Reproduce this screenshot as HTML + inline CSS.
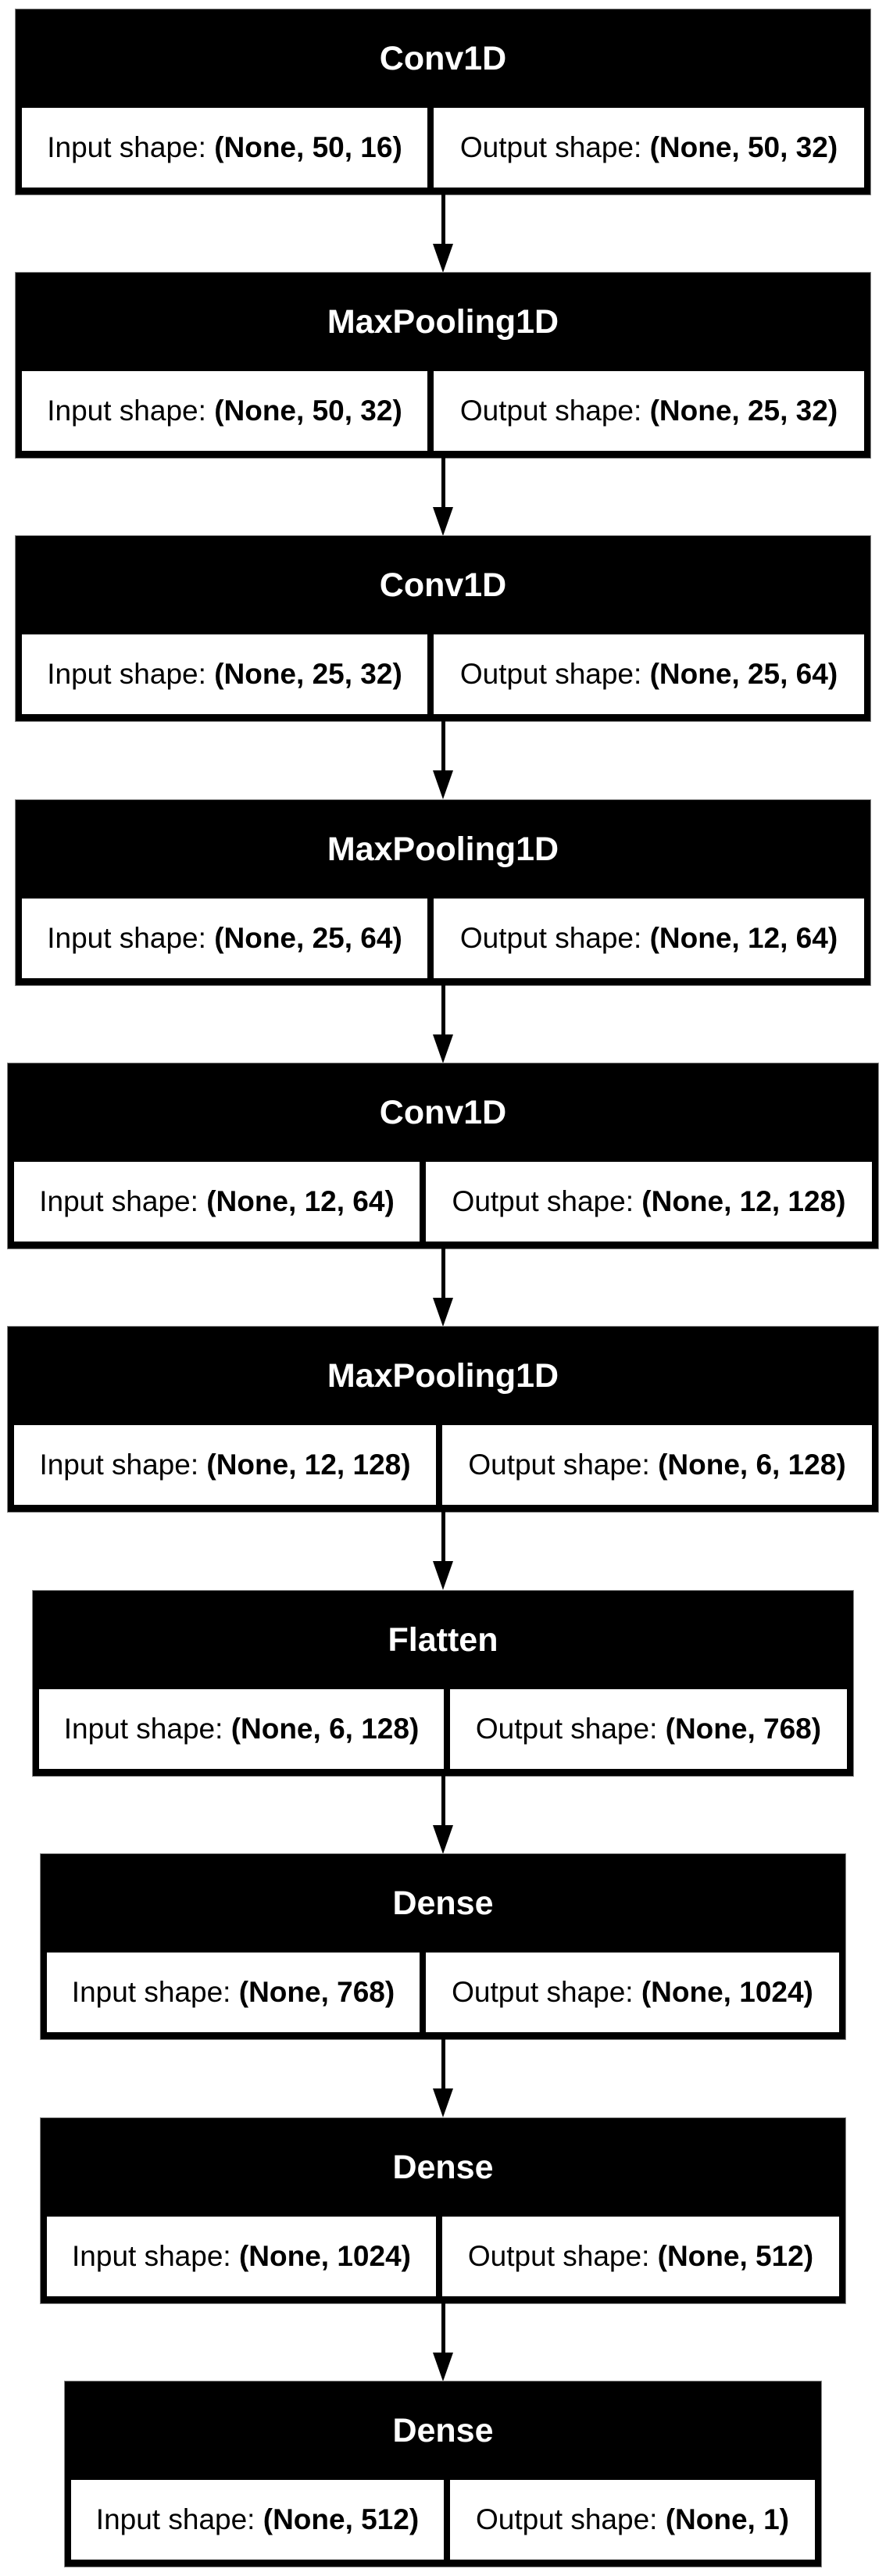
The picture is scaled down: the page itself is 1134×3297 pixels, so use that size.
<!DOCTYPE html>
<html><head><meta charset="utf-8"><style>
html,body{margin:0;padding:0;background:#fff;}
body{width:1134px;height:3297px;position:relative;overflow:hidden;font-family:"Liberation Sans",Arial,sans-serif;}
.b{position:absolute;background:#000;height:237px;box-shadow:0 0 0 1px #888;}
.t{position:absolute;left:0;right:0;top:0;height:126px;line-height:126px;text-align:center;color:#fff;font-weight:bold;font-size:43px;}
.c{position:absolute;background:#fff;top:126px;height:102px;line-height:102px;text-align:center;font-size:37px;color:#000;white-space:nowrap;}
.c b{font-weight:bold;}
.ln{position:absolute;left:565px;width:5px;background:#000;}
.ah{position:absolute;left:554px;width:0;height:0;border-left:13.5px solid transparent;border-right:13.5px solid transparent;border-top:37px solid #000;}
</style></head><body>

<div class="b" style="top:12px;left:20px;width:1094px"><div class="t">Conv1D</div><div class="c" style="left:8px;width:519px">Input shape: <b>(None, 50, 16)</b></div><div class="c" style="left:535px;width:551px">Output shape: <b>(None, 50, 32)</b></div></div>
<div class="ln" style="top:249px;height:65px"></div><div class="ah" style="top:312px"></div>

<div class="b" style="top:349px;left:20px;width:1094px"><div class="t">MaxPooling1D</div><div class="c" style="left:8px;width:519px">Input shape: <b>(None, 50, 32)</b></div><div class="c" style="left:535px;width:551px">Output shape: <b>(None, 25, 32)</b></div></div>
<div class="ln" style="top:586px;height:65px"></div><div class="ah" style="top:649px"></div>

<div class="b" style="top:686px;left:20px;width:1094px"><div class="t">Conv1D</div><div class="c" style="left:8px;width:519px">Input shape: <b>(None, 25, 32)</b></div><div class="c" style="left:535px;width:551px">Output shape: <b>(None, 25, 64)</b></div></div>
<div class="ln" style="top:923px;height:65px"></div><div class="ah" style="top:986px"></div>

<div class="b" style="top:1024px;left:20px;width:1094px"><div class="t">MaxPooling1D</div><div class="c" style="left:8px;width:519px">Input shape: <b>(None, 25, 64)</b></div><div class="c" style="left:535px;width:551px">Output shape: <b>(None, 12, 64)</b></div></div>
<div class="ln" style="top:1261px;height:65px"></div><div class="ah" style="top:1324px"></div>

<div class="b" style="top:1361px;left:10px;width:1114px"><div class="t">Conv1D</div><div class="c" style="left:8px;width:519px">Input shape: <b>(None, 12, 64)</b></div><div class="c" style="left:535px;width:571px">Output shape: <b>(None, 12, 128)</b></div></div>
<div class="ln" style="top:1598px;height:65px"></div><div class="ah" style="top:1661px"></div>

<div class="b" style="top:1698px;left:10px;width:1114px"><div class="t">MaxPooling1D</div><div class="c" style="left:8px;width:540px">Input shape: <b>(None, 12, 128)</b></div><div class="c" style="left:556px;width:550px">Output shape: <b>(None, 6, 128)</b></div></div>
<div class="ln" style="top:1935px;height:65px"></div><div class="ah" style="top:1998px"></div>

<div class="b" style="top:2036px;left:42px;width:1050px"><div class="t">Flatten</div><div class="c" style="left:8px;width:518px">Input shape: <b>(None, 6, 128)</b></div><div class="c" style="left:534px;width:508px">Output shape: <b>(None, 768)</b></div></div>
<div class="ln" style="top:2273px;height:65px"></div><div class="ah" style="top:2336px"></div>

<div class="b" style="top:2373px;left:52px;width:1030px"><div class="t">Dense</div><div class="c" style="left:8px;width:477px">Input shape: <b>(None, 768)</b></div><div class="c" style="left:493px;width:529px">Output shape: <b>(None, 1024)</b></div></div>
<div class="ln" style="top:2610px;height:65px"></div><div class="ah" style="top:2673px"></div>

<div class="b" style="top:2711px;left:52px;width:1030px"><div class="t">Dense</div><div class="c" style="left:8px;width:498px">Input shape: <b>(None, 1024)</b></div><div class="c" style="left:514px;width:508px">Output shape: <b>(None, 512)</b></div></div>
<div class="ln" style="top:2948px;height:65px"></div><div class="ah" style="top:3011px"></div>

<div class="b" style="top:3048px;left:83px;width:968px"><div class="t">Dense</div><div class="c" style="left:8px;width:477px">Input shape: <b>(None, 512)</b></div><div class="c" style="left:493px;width:467px">Output shape: <b>(None, 1)</b></div></div>

</body></html>
